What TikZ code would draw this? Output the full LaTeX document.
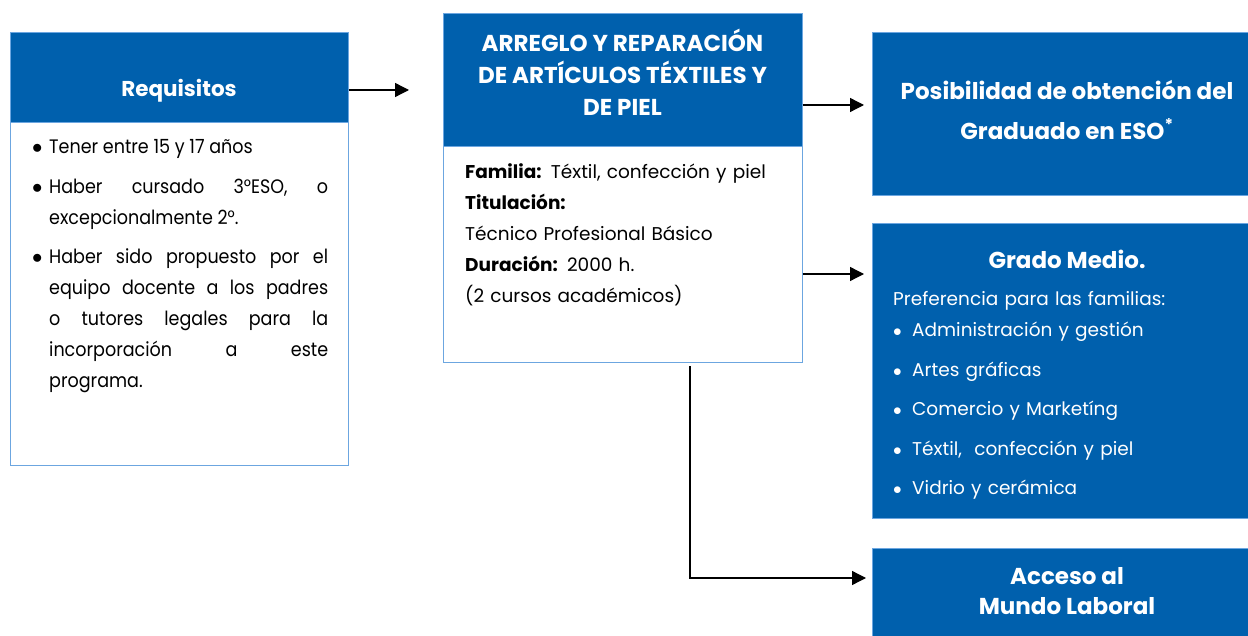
\documentclass[tikz,border=0pt]{standalone}
\usepackage{fontspec}
\setmainfont{Poppins}
\usepackage{xcolor}
\usetikzlibrary{positioning,arrows.meta}
\definecolor{azul}{HTML}{0060AD}
\definecolor{borde}{HTML}{6CA6E0}
\newcommand{\punto}[1]{\makebox[#1][l]{$\bullet$}}
\newcommand{\vineta}{\hangindent=17pt\hangafter=1\noindent\punto{17pt}}

\begin{document}
\begin{tikzpicture}[x=1pt,y=-1pt,
  caja/.style={draw=borde,line width=1pt,fill=azul,inner sep=0pt},
  marco/.style={draw=borde,line width=1pt,fill=white,inner sep=0pt},
  titulo/.style={text=white,font=\bfseries\fontsize{#1}{32}\selectfont,align=center,inner sep=0pt},
  titulo/.default=23,
  cuerpo/.style={font=\fontsize{18.5}{31}\selectfont,inner sep=0pt,anchor=base west},
  flecha/.style={-{Triangle[length=14pt,width=14pt]},line width=1.3pt}]
\useasboundingbox (0,0) rectangle (1248,636);

\node[marco,minimum width=338,minimum height=342] (reqbody) at (179,294) {};
\node[caja,minimum width=338,minimum height=90] (req) at (179,78) {};
\node[titulo=21.5] (reqtit) at (179,91) {Requisitos};
\node[cuerpo,font=\fontsize{19.5}{31}\selectfont\addfontfeature{FakeStretch=0.9},text width=296,align=justify] (reqtxt) at (32,154) {\setlength{\parskip}{8.5pt}%
  \vineta Tener entre 15 y 17 años\par
  \vineta Haber cursado 3°ESO, o\linebreak excepcionalmente 2°.\par
  \vineta Haber sido propuesto por el\linebreak equipo docente a los padres\linebreak o tutores legales para la\linebreak incorporación a este\linebreak programa.\par};

\node[marco,minimum width=359,minimum height=216] (progbody) at (622.5,255) {};
\node[caja,minimum width=359,minimum height=133] (prog) at (622.5,80.5) {};
\node[titulo=23] (progtit) at (622.5,72) {ARREGLO Y REPARACIÓN\\DE ARTÍCULOS TÉXTILES Y\\DE PIEL};
\node[cuerpo,text width=330,align=left] (progtxt) at (465,179) {\textbf{Familia:} Téxtil, confección y piel\\
  \textbf{Titulación:}\\
  Técnico Profesional Básico\\
  \textbf{Duración:} 2000 h.\\
  (2 cursos académicos)};

\node[caja,minimum width=390,minimum height=163] (eso) at (1067,114.5) {};
\node[titulo,font=\bfseries\fontsize{23}{40}\selectfont] (esotit) at (1067,110) {Posibilidad de obtención del\\Graduado en ESO\textsuperscript{*}};

\node[caja,minimum width=390,minimum height=294] (medio) at (1067,371) {};
\node[titulo] (mediotit) at (1067,259) {Grado Medio.};
\node[cuerpo,text width=340,align=left,text=white] (mediotxt) at (893,306) {Preferencia para las familias:\\
  \punto{19pt}Administración y gestión\\[8.5pt]
  \punto{19pt}Artes gráficas\\[8.5pt]
  \punto{19pt}Comercio y Marketíng\\[8.5pt]
  \punto{19pt}Téxtil,\ \ confección y piel\\[8.5pt]
  \punto{19pt}Vidrio y cerámica};

\node[caja,minimum width=390,minimum height=104] (laboral) at (1067,600) {};
\node[titulo,font=\bfseries\fontsize{23}{30}\selectfont] (laboraltit) at (1067,591) {Acceso al\\Mundo Laboral};

\coordinate (f1) at (409,90);
\coordinate (f2) at (864,105);
\coordinate (f3) at (864,274);
\coordinate (f4) at (866,578);
\coordinate (codo) at (690,578);
\draw[flecha] (f1 -| req.east) -- (f1);
\draw[flecha] (f2 -| prog.east) -- (f2);
\draw[flecha] (f3 -| progbody.east) -- (f3);
\draw[flecha] ([yshift=-3pt]codo |- progbody.south) -- (codo) -- (f4);
\end{tikzpicture}
\end{document}
